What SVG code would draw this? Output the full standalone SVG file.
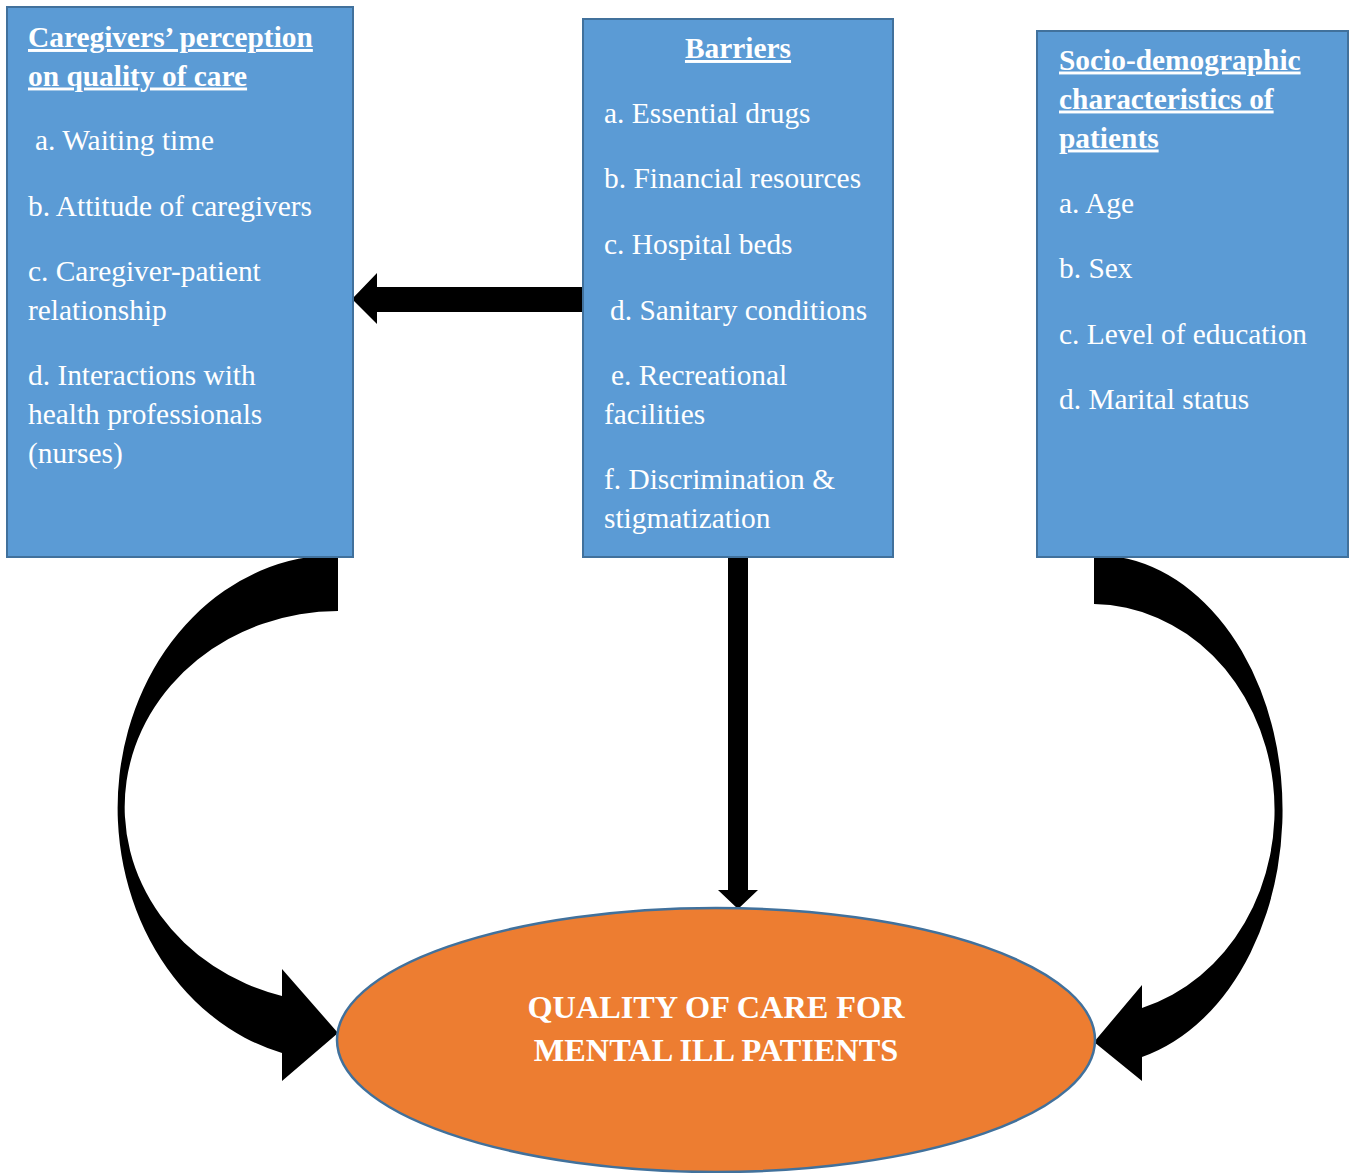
<svg xmlns="http://www.w3.org/2000/svg" width="1356" height="1173" viewBox="0 0 1356 1173">
<style>
.box{fill:#5B9BD5;stroke:#41719C;stroke-width:2}
.ell{fill:#ED7D31;stroke:#41719C;stroke-width:2.5}
.t{font-family:"Liberation Serif","Times New Roman",serif;font-size:29.4px;fill:#FFFFFF}
.h{font-weight:bold;text-decoration:underline}
.e{font-family:"Liberation Serif","Times New Roman",serif;font-size:32.3px;font-weight:bold;fill:#FFFFFF;text-anchor:middle}
.arr{fill:#000000;stroke:none}
</style>
<rect width="1356" height="1173" fill="#FFFFFF"/>
<g id="connectors">
<path class="arr" d="M585,287 L377,287 L377,273 L352,299 L377,324 L377,312 L585,312 Z"/>
<path class="arr" d="M728,555 L748,555 L748,890 L758,890 L738,909 L718,890 L728,890 Z"/>
<path class="arr" d="M338,555 A219,253 0 0 0 282,1053 L282,1081 L338,1033 L282,969 L282,996 A214,196 0 0 1 338,611 Z"/>
<path class="arr" d="M1094,555 A187,255 0 0 1 1142,1057 L1142,1081 L1094,1042 L1142,985 L1142,1008 A183,206 0 0 0 1094,604 Z"/>
</g>
<g id="caregivers">
<rect class="box" x="7" y="7" width="346" height="550"/>
<text class="t h" x="28" y="47">Caregivers’ perception</text>
<text class="t h" x="28" y="85.5">on quality of care</text>
<text class="t" x="35" y="149.5">a. Waiting time</text>
<text class="t" x="28" y="215.5">b. Attitude of caregivers</text>
<text class="t" x="28" y="280.5">c. Caregiver-patient</text>
<text class="t" x="28" y="319.5">relationship</text>
<text class="t" x="28" y="384.5">d. Interactions with</text>
<text class="t" x="28" y="423.5">health professionals</text>
<text class="t" x="28" y="462.5">(nurses)</text>
</g>
<g id="barriers">
<rect class="box" x="583" y="19" width="310" height="538"/>
<text class="t h" x="738" y="58" text-anchor="middle">Barriers</text>
<text class="t" x="604" y="122.5">a. Essential drugs</text>
<text class="t" x="604" y="187.5">b. Financial resources</text>
<text class="t" x="604" y="253.5">c. Hospital beds</text>
<text class="t" x="610" y="319.5">d. Sanitary conditions</text>
<text class="t" x="611" y="384.5">e. Recreational</text>
<text class="t" x="604" y="423.5">facilities</text>
<text class="t" x="604" y="488.5">f. Discrimination &amp;</text>
<text class="t" x="604" y="527.5">stigmatization</text>
</g>
<g id="sociodemographic">
<rect class="box" x="1037" y="31" width="311" height="526"/>
<text class="t h" x="1059" y="69.5">Socio-demographic</text>
<text class="t h" x="1059" y="108.5">characteristics of</text>
<text class="t h" x="1059" y="147.5">patients</text>
<text class="t" x="1059" y="212.5">a. Age</text>
<text class="t" x="1059" y="277.5">b. Sex</text>
<text class="t" x="1059" y="343.5">c. Level of education</text>
<text class="t" x="1059" y="408.5">d. Marital status</text>
</g>
<g id="quality">
<ellipse class="ell" cx="716" cy="1040" rx="379" ry="132"/>
<text class="e" x="716" y="1018">QUALITY OF CARE FOR</text>
<text class="e" x="716" y="1061">MENTAL ILL PATIENTS</text>
</g>
</svg>
